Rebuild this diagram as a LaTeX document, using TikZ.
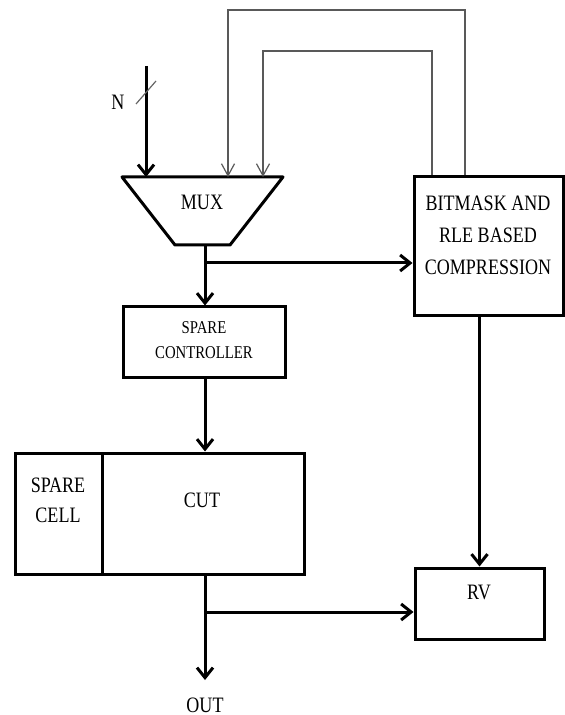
\documentclass[tikz,border=0pt]{standalone}
\usepackage{fontspec}
\setmainfont[FakeStretch=0.82]{Liberation Serif}
\usetikzlibrary{arrows.meta,positioning}

\tikzset{
  blk/.style={draw, line width=1.5pt, inner sep=0pt},
  txt/.style={align=center, font=\fontsize{11}{16}\selectfont},
  bus/.style={line width=1.5pt, -{Straight Barb[length=5pt,width=8pt]}},
  fb/.style={draw=black!65, line width=0.6pt, -{Straight Barb[length=6pt,width=6.5pt]}},
}

\begin{document}
\begin{tikzpicture}[x=0.5pt,y=-0.5pt]
  \useasboundingbox (0,0) rectangle (565,715);

  % mux
  \coordinate (m1) at (122,177);
  \coordinate (m2) at (283,177);
  \coordinate (m3) at (230,245);
  \coordinate (m4) at (175,245);
  \draw[line width=1.5pt, line join=round] (m1) -- (m2) -- (m3) -- (m4) -- cycle;
  \node[txt] (mux) at (202,202) {MUX};

  % boxes
  \node[blk, minimum width=74.5pt, minimum height=69.5pt] (comp) at (488.5,246.5) {};
  \node[txt] (comptxt) at (488,235) {BITMASK AND\\RLE BASED\\COMPRESSION};
  \node[blk, minimum width=81pt, minimum height=35pt] (ctrl) at (204,342) {};
  \node[align=center, font=\fontsize{9}{12.5}\selectfont] (ctrltxt) at (204,340) {SPARE\\CONTROLLER};
  \node[blk, minimum width=43.5pt, minimum height=60.5pt] (spare) at (58.5,513.5) {};
  \node[txt, font=\fontsize{11}{15}\selectfont] (sparetxt) at (58,500) {SPARE\\CELL};
  \node[blk, minimum width=101pt, minimum height=60.5pt, right=-1.5pt of spare] (cut) {};
  \node[txt] (cuttxt) at (202,500) {CUT};
  \node[blk, minimum width=64.5pt, minimum height=35.5pt] (rv) at (479.5,603.5) {};
  \node[txt] (rvtxt) at (479,592) {RV};

  % input
  \coordinate (nin) at (146,66);
  \draw[bus] (nin) -- (nin |- m1);
  \draw[black!60, line width=0.6pt] (136,104) -- (156,81);
  \node[txt] (n) at (118,102) {N};

  % feedback from compression
  \coordinate (fbtop1) at (228,10);
  \coordinate (fbtop2) at (263,51);
  \draw[fb] ([xshift=-11.75pt]comp.north) |- (fbtop1) -- (fbtop1 |- m1);
  \draw[fb] ([xshift=-28.25pt]comp.north) |- (fbtop2) -- (fbtop2 |- m1);

  % data path
  \coordinate (mout) at (205,245);
  \coordinate (split1) at (205,263);
  \coordinate (split2) at (205,612);
  \coordinate (outend) at (205,680);
  \draw[bus] (mout) -- (mout |- ctrl.north);
  \draw[bus] (split1) -- (split1 -| comp.west);
  \draw[bus] (ctrl.south -| mout) -- (cut.north -| mout);
  \draw[bus] (cut.south -| mout) -- (outend);
  \draw[bus] (split2) -- (split2 -| rv.west);
  \draw[bus] (rv.north |- comp.south) -- (rv.north);
  \node[txt] (out) at (205,705) {OUT};
\end{tikzpicture}
\end{document}
